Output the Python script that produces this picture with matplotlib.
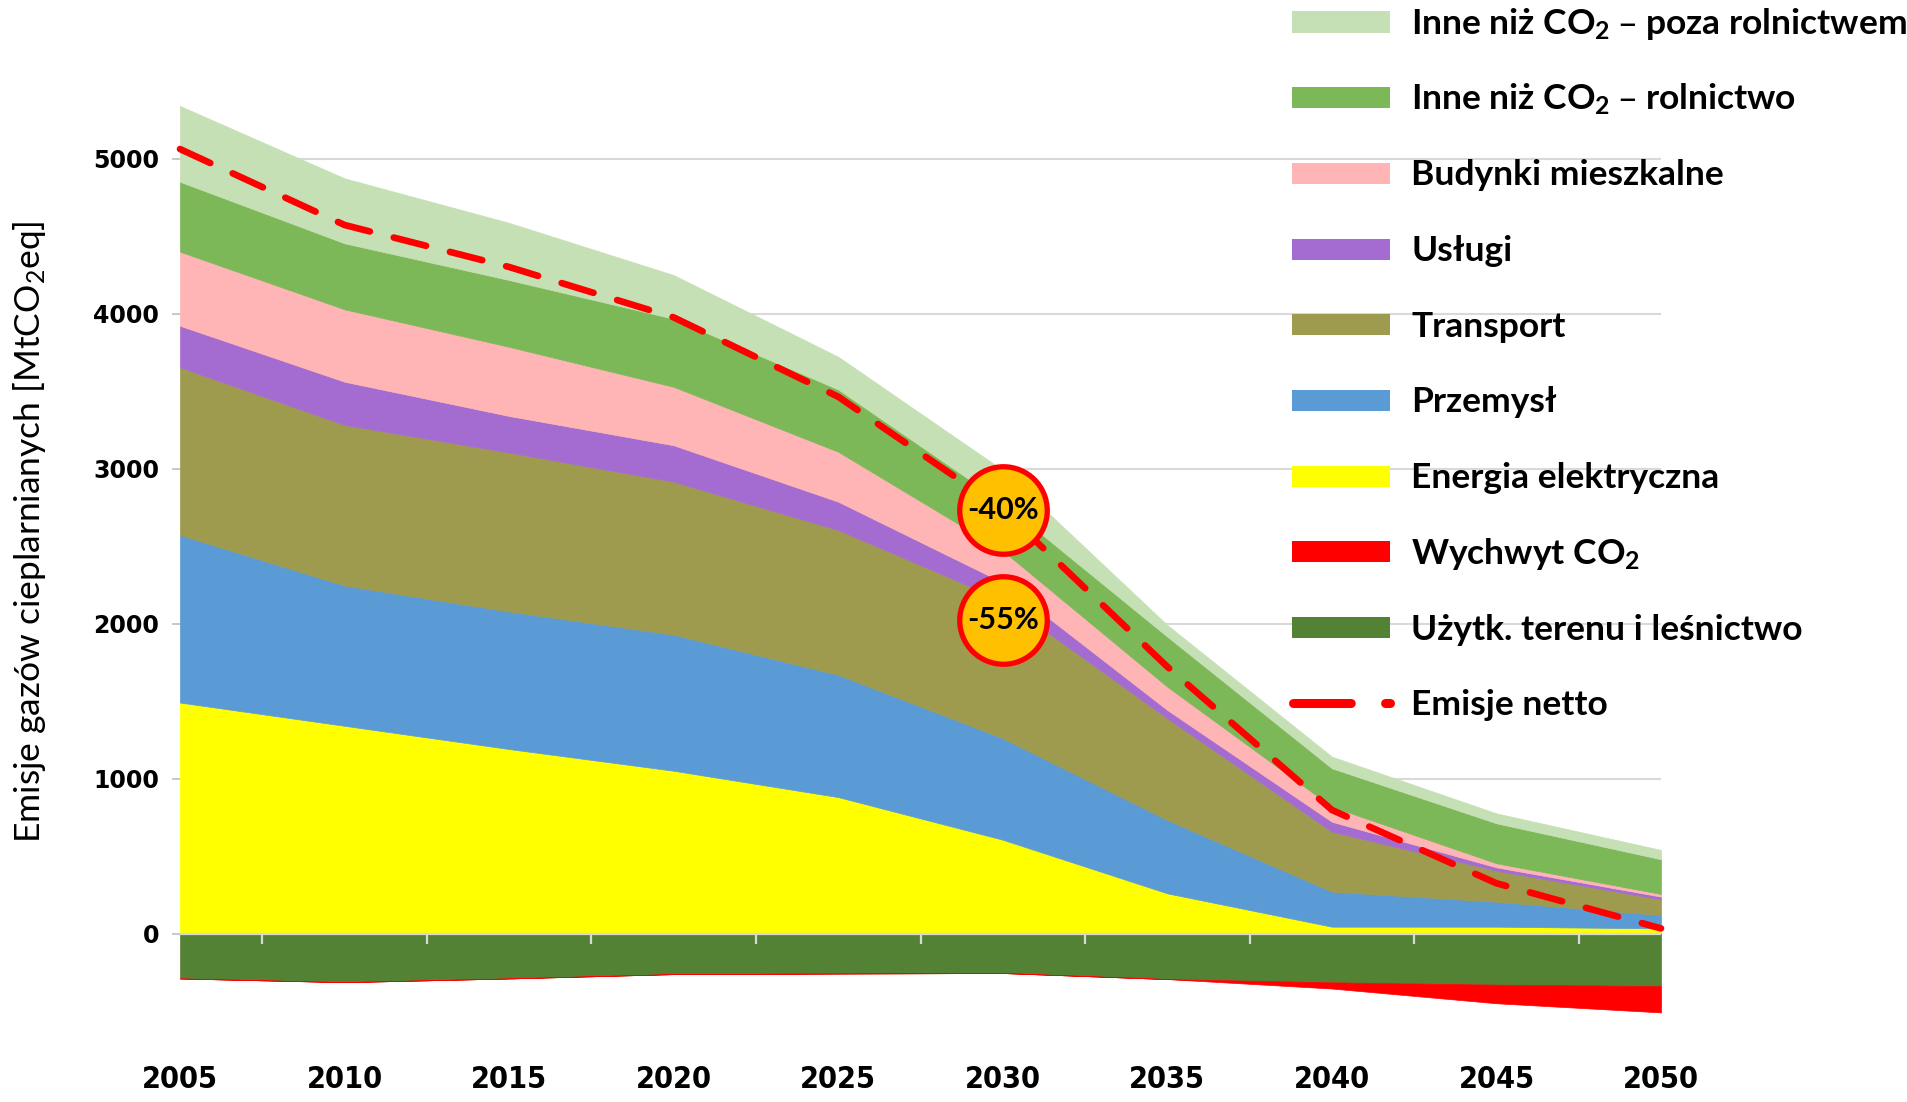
import matplotlib
matplotlib.use("Agg")
import matplotlib.pyplot as plt
import numpy as np
from matplotlib import font_manager
from matplotlib.patches import Rectangle
from matplotlib.lines import Line2D

# dane [MtCO2eq]
years = [2005, 2010, 2015, 2020, 2025, 2030, 2035, 2040, 2045, 2050]
energia = [1490, 1340, 1190, 1050, 880, 605, 259, 44, 44, 33]
przemysl = [1081, 905, 887, 878, 789, 655, 473, 226, 161, 86]
transport = [1082, 1036, 1026, 987, 934, 890, 656, 387, 200, 101]
uslugi = [268, 279, 236, 235, 183, 115, 54, 64, 22, 18]
budynki = [478, 467, 446, 377, 322, 205, 150, 97, 26, 17]
rolnictwo = [451, 426, 431, 439, 402, 310, 323, 248, 258, 224]
poza_rolnictwem = [489, 419, 369, 282, 211, 210, 75, 75, 64, 60]
lulucf = [-290, -314, -290, -262, -258, -255, -294, -315, -330, -339]
wychwyt = [0, 0, 0, 0, 0, 0, 0, -40, -120, -170]
netto = [5061, 4571, 4300, 3975, 3463, 2735, 1721, 797, 324, 33]

ring_years = [2030, 2030]
ring_values = [2735, 2025]
ring_labels = ['-40%', '-55%']

labels = ['Inne niż CO$_2$ – poza rolnictwem', 'Inne niż CO$_2$ – rolnictwo',
          'Budynki mieszkalne', 'Usługi', 'Transport', 'Przemysł',
          'Energia elektryczna', 'Wychwyt CO$_2$', 'Użytk. terenu i leśnictwo',
          'Emisje netto']
colors = ['#C5E0B4', '#7CB857', '#FFB5B5', '#A46CD0', '#9E9A4E', '#5B9BD5',
          '#FFFF00', '#FF0000', '#548235']

plt.rcParams['mathtext.default'] = 'regular'
LATO = ['Lato', 'DejaVu Sans']

# waska czcionka dla lat na osi x
fonts = font_manager.fontManager.ttflist
names = {f.name for f in fonts}
if 'Liberation Sans Narrow' in names:
    xfont = dict(family=['Liberation Sans Narrow'], size=25, stretch='normal')
elif any(f.name == 'DejaVu Sans' and f.stretch == 'condensed' for f in fonts):
    xfont = dict(family=['DejaVu Sans'], size=22, stretch='condensed')
else:
    xfont = dict(family=LATO, size=23, stretch='normal')

W, H = 1907, 1102
fig = plt.figure(figsize=(W / 100, H / 100), dpi=100)


def fx(px):
    return px / W


def fy(py):
    return 1 - py / H


ax = fig.add_axes([fx(180), fy(1026.5), (1661 - 180) / W, (1026.5 - 81) / H])
ax.set_xlim(2005, 2050)
ax.set_ylim(-600, 5500)

ax.stackplot(years, energia, przemysl, transport, uslugi, budynki, rolnictwo,
             poza_rolnictwem, colors=colors[6::-1], edgecolor='face',
             linewidth=0.5, zorder=1)
ax.stackplot(years, lulucf, wychwyt, colors=[colors[8], colors[7]],
             edgecolor='face', linewidth=0.5, zorder=1)

# os zero z kreskami miedzy kategoriami
ax.axhline(0, color='#D9D9D9', lw=1.6, zorder=2)
mids = (np.array(years[:-1]) + np.array(years[1:])) / 2
ax.vlines(mids, -70, 0, color='#D9D9D9', lw=1.6, zorder=2)

ax.plot(years, netto, color='#FF0000', lw=4.8, dashes=(5, 3.7),
        dash_capstyle='round', zorder=3, clip_on=False)

for x, y, t in zip(ring_years, ring_values, ring_labels):
    ax.plot(x, y, 'o', ms=63, mfc='#FFC000', mec='#FF0000', mew=3.8,
            zorder=4, clip_on=False)
    ax.text(x, y, t, ha='center', va='center', fontsize=22,
            fontweight='bold', family=LATO, zorder=5)

ax.set_yticks(range(0, 5001, 1000))
ax.yaxis.grid(True, color='#D9D9D9', lw=1.5)
ax.set_axisbelow(True)
ax.tick_params(axis='y', length=6, width=1.2, color='#BFBFBF', pad=9,
               labelsize=17)
for lbl in ax.get_yticklabels():
    lbl.set_fontweight('bold')
    lbl.set_family('DejaVu Sans')

ax.set_xticks(years)
ax.tick_params(axis='x', length=0, pad=28, labelsize=xfont['size'])
for lbl in ax.get_xticklabels():
    lbl.set_fontweight('bold')
    lbl.set_family(xfont['family'])
    lbl.set_fontstretch(xfont['stretch'])

for s in ax.spines.values():
    s.set_visible(False)

fig.text(fx(30), fy(532), 'Emisje gazów cieplarnianych [MtCO$_2$eq]',
         rotation=90, ha='center', va='center', fontsize=25.5, family=LATO)

# legenda
for i, lab in enumerate(labels):
    yc = 22 + i * 75.7
    if i < len(colors):
        fig.add_artist(Rectangle((fx(1292), fy(yc + 10.5)), 98 / W, 21 / H,
                                 transform=fig.transFigure,
                                 facecolor=colors[i], edgecolor='none'))
    else:
        fig.add_artist(Line2D([fx(1293), fx(1390)], [fy(yc), fy(yc)],
                              transform=fig.transFigure, color='#FF0000',
                              lw=6.5, dashes=(6.4, 3.8, 0.7, 5),
                              dash_capstyle='round'))
    fig.text(fx(1411), fy(yc + 2), lab, ha='left', va='center', fontsize=25.5,
             fontweight='bold', family=LATO)

fig.savefig('out.png', dpi=100)
